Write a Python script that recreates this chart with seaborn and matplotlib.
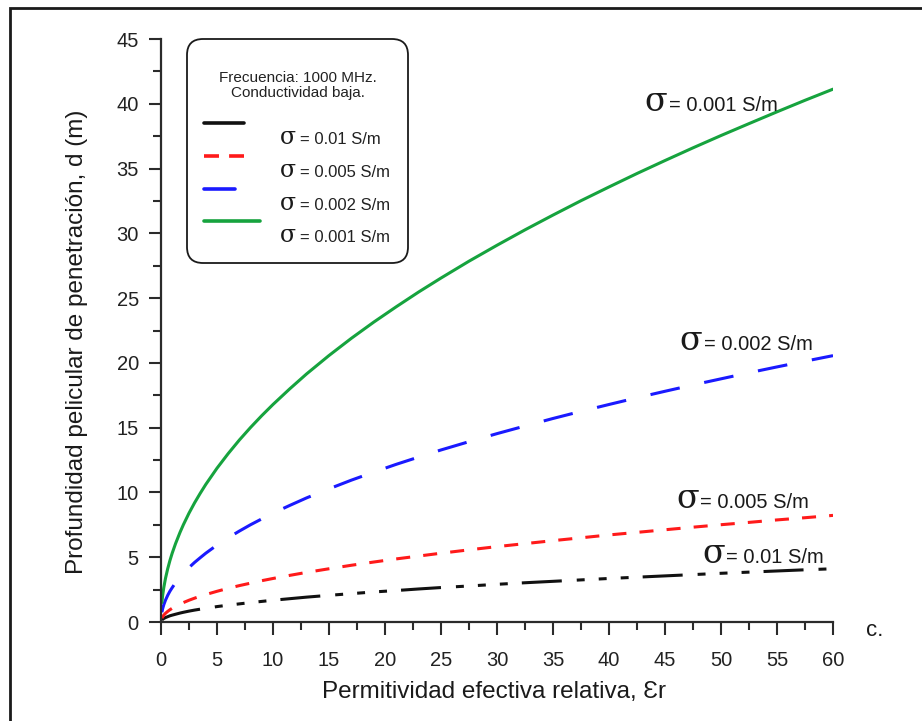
import matplotlib
matplotlib.use("Agg")
import matplotlib.pyplot as plt
import matplotlib.transforms as mtransforms
from matplotlib.lines import Line2D
from matplotlib.text import Text
from matplotlib.legend_handler import HandlerLine2D
from matplotlib.patches import Rectangle
from matplotlib.ticker import MultipleLocator
import pandas as pd
import seaborn as sns

# Relative effective permittivity (x axis)
eps_r = [0.08, 0.15, 0.25, 0.4, 0.6, 0.8, 1, 1.3, 1.7, 2,
         2.5, 3, 3.5, 4, 5, 6, 7, 8, 9, 10,
         11.5, 13, 15, 17, 19, 21, 23, 25, 27.5, 30,
         32.5, 35, 37.5, 40, 42.5, 45, 47.5, 50, 52.5, 55,
         57.5, 60]

# Skin depth d (m) for each conductivity
d_001 = [1.5, 2.06, 2.65, 3.36, 4.11, 4.75, 5.31, 6.05, 6.92, 7.51,
         8.4, 9.2, 9.93, 10.62, 11.87, 13.0, 14.05, 15.02, 15.93, 16.79,
         18.0, 19.15, 20.57, 21.9, 23.15, 24.33, 25.47, 26.55, 27.85, 29.08,
         30.27, 31.41, 32.52, 33.58, 34.62, 35.62, 36.6, 37.55, 38.47, 39.38,
         40.27, 41.13]
d_002 = [0.75, 1.03, 1.33, 1.68, 2.06, 2.38, 2.65, 3.03, 3.46, 3.75,
         4.2, 4.6, 4.96, 5.31, 5.94, 6.5, 7.02, 7.51, 7.96, 8.4,
         9.0, 9.58, 10.28, 10.95, 11.57, 12.17, 12.73, 13.28, 13.92, 14.54,
         15.13, 15.71, 16.26, 16.79, 17.31, 17.81, 18.3, 18.77, 19.24, 19.69,
         20.13, 20.56]
d_005 = [0.3, 0.41, 0.53, 0.67, 0.82, 0.95, 1.06, 1.21, 1.38, 1.5,
         1.68, 1.84, 1.99, 2.12, 2.37, 2.6, 2.81, 3.0, 3.19, 3.36,
         3.6, 3.83, 4.11, 4.38, 4.63, 4.87, 5.09, 5.31, 5.57, 5.82,
         6.05, 6.28, 6.5, 6.72, 6.92, 7.12, 7.32, 7.51, 7.69, 7.88,
         8.05, 8.23]
d_01 = [0.15, 0.21, 0.27, 0.34, 0.41, 0.48, 0.53, 0.6, 0.69, 0.75,
        0.84, 0.92, 0.99, 1.06, 1.19, 1.3, 1.4, 1.5, 1.59, 1.68,
        1.8, 1.92, 2.06, 2.19, 2.32, 2.43, 2.55, 2.66, 2.78, 2.91,
        3.03, 3.14, 3.25, 3.36, 3.46, 3.56, 3.66, 3.76, 3.85, 3.94,
        4.03, 4.11]

series_names = ["0.01", "0.005", "0.002", "0.001"]
series_values = [d_01, d_005, d_002, d_001]
colors = {"0.01": "#111111", "0.005": "#ff1a1a", "0.002": "#1a1aff", "0.001": "#16a33e"}
dash_styles = {
    "0.01": (13.1, 4.9, 2.6, 4.6, 2.6, 4.6, 2.6, 4.6),
    "0.005": (4.6, 4.3),
    "0.002": (9.8, 8.2),
    "0.001": "",
}

x_ticks = list(range(0, 61, 5))
y_ticks = list(range(0, 46, 5))

rows = []
for name, vals in zip(series_names, series_values):
    for e, d in zip(eps_r, vals):
        rows.append({"eps": e, "d": d, "sigma": name})
df = pd.DataFrame(rows)

sns.set_theme(style="ticks")
plt.rcParams["font.family"] = ["Liberation Sans", "DejaVu Sans"]

SIGMA_FONT = ["DejaVu Serif"]
TEXT_C = "#1a1a1a"

fig = plt.figure(figsize=(9.22, 7.21), dpi=100)
ax = fig.add_axes([0.1746, 0.1373, 0.7289, 0.8086])

sns.lineplot(data=df, x="eps", y="d", hue="sigma", style="sigma",
             hue_order=series_names, style_order=series_names,
             palette=colors, dashes=dash_styles, linewidth=2.2,
             legend=False, errorbar=None, ax=ax)

ax.set_xlim(0, 60)
ax.set_ylim(0, 45)
ax.set_xticks(x_ticks)
ax.set_yticks(y_ticks)
ax.xaxis.set_minor_locator(MultipleLocator(2.5))
ax.yaxis.set_minor_locator(MultipleLocator(2.5))

spine_c = "#2b2b2b"
for side in ("top", "right"):
    ax.spines[side].set_visible(False)
for side in ("left", "bottom"):
    ax.spines[side].set_linewidth(1.6)
    ax.spines[side].set_color(spine_c)
ax.tick_params(which="major", direction="out", length=9, width=1.5,
               color=spine_c, labelsize=14.5, labelcolor="#222222")
ax.tick_params(axis="x", which="major", pad=12)
ax.tick_params(axis="y", which="major", pad=7)
ax.tick_params(which="minor", direction="out", length=5.5, width=1.5, color=spine_c)

ax.set_xlabel("Permitividad efectiva relativa, Ɛr", fontsize=17.5, color=TEXT_C)
ax.set_ylabel("Profundidad pelicular de penetración, d (m)", fontsize=17.5, color=TEXT_C)
ax.xaxis.set_label_coords(0.4955, -0.102)
ax.yaxis.set_label_coords(-0.109, 0.48)


class SigmaLineHandler(HandlerLine2D):
    """Legend entry: a line raised above its label, plus a large sigma glyph."""

    def __init__(self, frac=1.0, lift=1.3, sigma_x=14.0, **kw):
        super().__init__(**kw)
        self.frac = frac
        self.lift = lift
        self.sigma_x = sigma_x

    def create_artists(self, legend, orig_handle, xdescent, ydescent,
                       width, height, fontsize, trans):
        artists = super().create_artists(legend, orig_handle, xdescent, ydescent,
                                         width * self.frac, height, fontsize, trans)
        shift = mtransforms.Affine2D().translate(0, height * self.lift)
        for a in artists:
            a.set_transform(shift + trans)
        sig = Text(width + self.sigma_x, 0, "σ", fontsize=17, family=SIGMA_FONT,
                   color=TEXT_C, va="baseline", ha="left")
        sig.set_transform(trans)
        return list(artists) + [sig]


handles = []
handler_map = {}
fracs = {"0.01": 0.71, "0.005": 0.71, "0.002": 0.55, "0.001": 1.0}
legend_dashes = {"0.01": "", "0.005": (4.15, 2.8), "0.002": "", "0.001": ""}
for name in series_names:
    h = Line2D([], [], color=colors[name], lw=2.6)
    if legend_dashes[name]:
        h.set_dashes(legend_dashes[name])
    handles.append(h)
    handler_map[h] = SigmaLineHandler(frac=fracs[name])
labels = [f"= {n} S/m" for n in series_names]

leg = ax.legend(handles, labels, handler_map=handler_map,
                title="\nFrecuencia: 1000 MHz.\nConductividad baja.\n",
                title_fontsize=11, fontsize=12, loc="upper left",
                bbox_to_anchor=(0.0387, 1.0), borderaxespad=0,
                handlelength=3.36, handletextpad=2.4, labelspacing=1.07,
                borderpad=1.05, frameon=True, fancybox=True)
title = leg.get_title()
title.set_multialignment("center")
title.set_linespacing(1.05)
title.set_color("#222222")
for t in leg.get_texts():
    t.set_color("#222222")
frame = leg.get_frame()
frame.set_edgecolor(TEXT_C)
frame.set_linewidth(1.3)
frame.set_facecolor("white")
frame.set_alpha(1)
frame.set_boxstyle("round", pad=0, rounding_size=0.95)
leg._legend_box.align = "center"

# Curve labels: large sigma followed by the value
curve_labels = [
    ("0.001", 43.2, 39.44),
    ("0.002", 46.3, 21.0),
    ("0.005", 45.98, 8.8),
    ("0.01", 48.3, 4.55),
]
for name, lx, ly in curve_labels:
    ax.text(lx, ly, "σ", fontsize=24, family=SIGMA_FONT,
            color=TEXT_C, va="baseline", ha="left")
    ax.annotate(f"= {name} S/m", xy=(lx, ly), xytext=(17.5, 0),
                textcoords="offset points", va="baseline", ha="left",
                fontsize=14.5, color=TEXT_C)

fig.text(0.949, 0.126, "c.", fontsize=16, color=TEXT_C, ha="center", va="center")

# Page frame lines
fig.add_artist(Rectangle((10 / 922, -0.2), 1.5, 1.2 - 8 / 721, transform=fig.transFigure,
                         fill=False, edgecolor=TEXT_C, linewidth=2.0, clip_on=False))

fig.savefig("out.png", dpi=100)
